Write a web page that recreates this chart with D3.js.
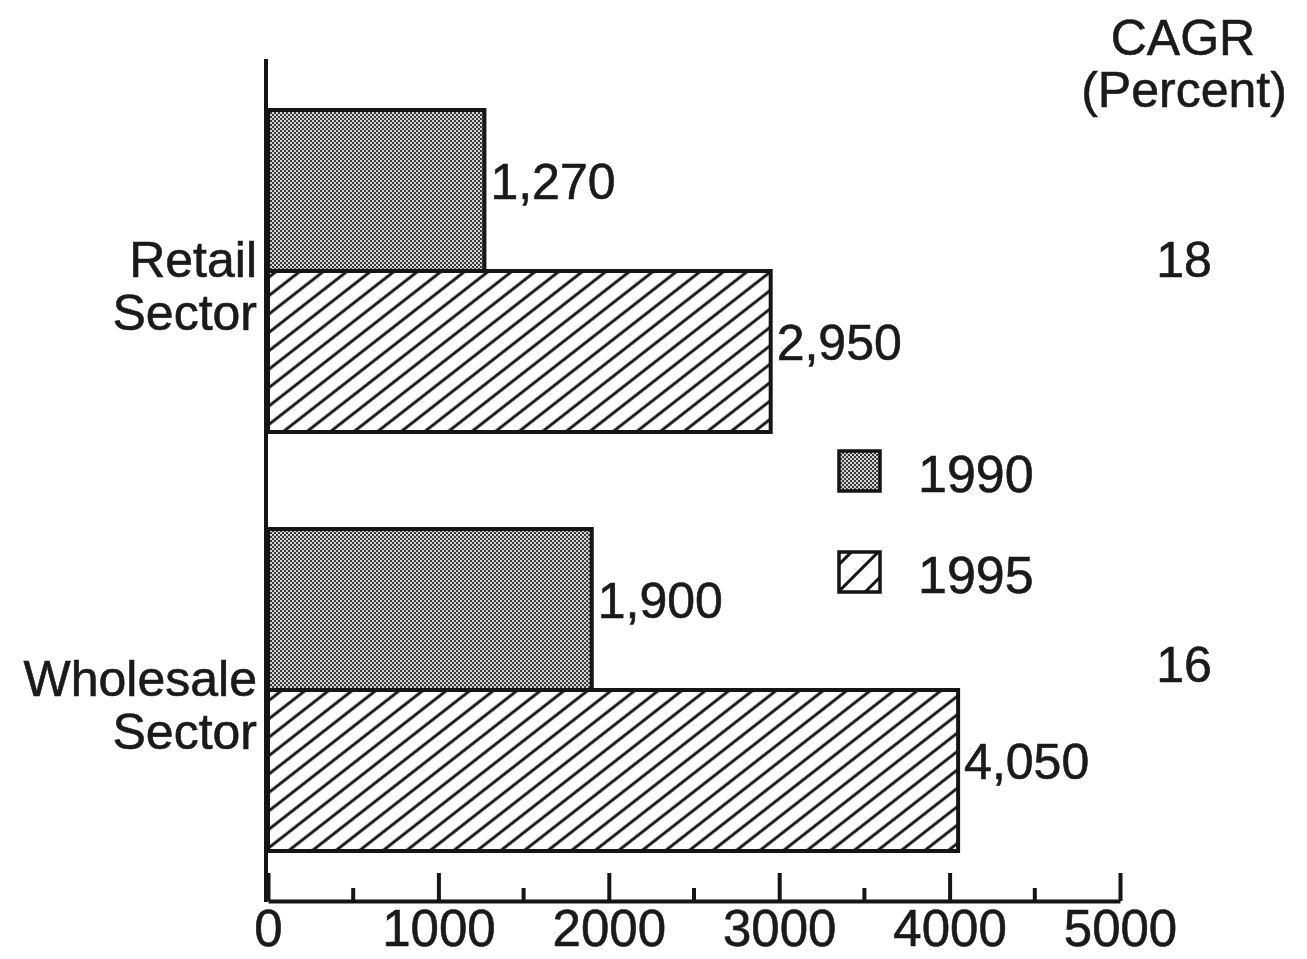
<!DOCTYPE html>
<html>
<head>
<meta charset="utf-8">
<script src="https://cdn.jsdelivr.net/npm/d3@7"></script>
<style>
  html, body { margin: 0; padding: 0; background: #fff; }
  svg { display: block; }
  text { font-family: "Liberation Sans", Arial, Helvetica, sans-serif; fill: #1a1a1a; stroke: #1a1a1a; stroke-width: 0.6px; }
</style>
</head>
<body>
<svg id="chart" width="1307" height="959"></svg>
<script>
// Sectors, years and values (sales, 1990 vs 1995) with growth rates
const sectors = ["Retail Sector", "Wholesale Sector"];
const sectorLines = [["Retail", "Sector"], ["Wholesale", "Sector"]];
const years = ["1990", "1995"];
const values1990 = [1270, 1900];
const values1995 = [2950, 4050];
const cagr = [18, 16];
const xTicks = [0, 1000, 2000, 3000, 4000, 5000];
const xMinorTicks = [500, 1500, 2500, 3500, 4500];

const svg = d3.select("#chart");
const defs = svg.append("defs");
const ink = "#151515";

// Dense dotted gray fill for 1990
const dots = defs.append("pattern")
  .attr("id", "dots").attr("patternUnits", "userSpaceOnUse")
  .attr("width", 4).attr("height", 4);
dots.append("rect").attr("width", 4).attr("height", 4).attr("fill", "#3a3a3a");
dots.append("rect").attr("x", 0).attr("y", 0).attr("width", 2).attr("height", 2).attr("fill", "#d4d4d4");
dots.append("rect").attr("x", 2).attr("y", 2).attr("width", 2).attr("height", 2).attr("fill", "#d4d4d4");

// Diagonal hatch for 1995
const hatch = defs.append("pattern")
  .attr("id", "hatch").attr("patternUnits", "userSpaceOnUse")
  .attr("width", 40).attr("height", 14.5)
  .attr("patternTransform", "rotate(-38)");
hatch.append("rect").attr("width", 40).attr("height", 14.5).attr("fill", "#fff");
hatch.append("line").attr("x1", 0).attr("x2", 40).attr("y1", 7).attr("y2", 7)
  .attr("stroke", ink).attr("stroke-width", 2.8);

// Wider hatch for the legend swatch
const hatchLeg = defs.append("pattern")
  .attr("id", "hatchLeg").attr("patternUnits", "userSpaceOnUse")
  .attr("width", 40).attr("height", 19)
  .attr("patternTransform", "translate(838,552) rotate(-45)");
hatchLeg.append("rect").attr("width", 40).attr("height", 19).attr("fill", "#fff");
hatchLeg.append("line").attr("x1", 0).attr("x2", 40).attr("y1", 9.5).attr("y2", 9.5)
  .attr("stroke", ink).attr("stroke-width", 2.8);

const x = d3.scaleLinear().domain([0, 5000]).range([268, 1120]);
const yCat = d3.scalePoint().domain(sectors).range([271, 690]);
const ySub = d3.scaleBand().domain(years).range([-161, 161]).padding(0);
const fills = { "1990": "url(#dots)", "1995": "url(#hatch)" };

const rows = [];
sectors.forEach((s, i) => {
  rows.push({ sector: s, year: "1990", value: values1990[i] });
  rows.push({ sector: s, year: "1995", value: values1995[i] });
});

// Bars
svg.append("g").selectAll("rect").data(rows).join("rect")
  .attr("x", x(0))
  .attr("y", d => yCat(d.sector) + ySub(d.year))
  .attr("width", d => x(d.value) - x(0))
  .attr("height", ySub.bandwidth())
  .attr("fill", d => fills[d.year])
  .attr("stroke", ink).attr("stroke-width", 4);

// Value labels
const fmt = d3.format(",");
svg.append("g").selectAll("text").data(rows).join("text")
  .attr("x", d => x(d.value) + 6)
  .attr("y", d => yCat(d.sector) + ySub(d.year) + ySub.bandwidth() / 2 + 8)
  .attr("font-size", 50)
  .text(d => fmt(d.value));

// Left axis line
svg.append("line")
  .attr("x1", 266).attr("x2", 266).attr("y1", 59).attr("y2", 902)
  .attr("stroke", ink).attr("stroke-width", 4);

// Bottom axis with major and minor ticks
const axisG = svg.append("g").attr("transform", "translate(0,901)");
axisG.call(d3.axisBottom(x).tickValues(xTicks).tickSize(-28).tickSizeOuter(0).tickFormat(d3.format("d")));
axisG.select(".domain").attr("stroke", ink).attr("stroke-width", 4);
axisG.selectAll(".tick line").attr("stroke", ink).attr("stroke-width", 4);
axisG.selectAll(".tick text")
  .attr("y", 45).attr("dy", 0)
  .attr("font-size", 51)
  .attr("font-family", "'Liberation Sans', Arial, Helvetica, sans-serif")
  .attr("fill", "#1a1a1a");
axisG.append("g").selectAll("line").data(xMinorTicks).join("line")
  .attr("x1", d => x(d)).attr("x2", d => x(d))
  .attr("y1", 0).attr("y2", -13)
  .attr("stroke", ink).attr("stroke-width", 4);

// Category labels
const catG = svg.append("g");
sectors.forEach((s, i) => {
  const t = catG.append("text")
    .attr("text-anchor", "end")
    .attr("font-size", 50);
  sectorLines[i].forEach((ln, j) => {
    t.append("tspan").attr("x", 257).attr("y", yCat(s) + 6 + j * 53).text(ln);
  });
});

// CAGR column
svg.append("text").attr("x", 1183).attr("y", 55).attr("text-anchor", "middle")
  .attr("font-size", 50).text("CAGR");
svg.append("text").attr("x", 1184).attr("y", 107).attr("text-anchor", "middle")
  .attr("font-size", 50).text("(Percent)");
const cagrY = [277, 682];
svg.append("g").selectAll("text").data(cagr).join("text")
  .attr("x", 1184).attr("y", (d, i) => cagrY[i])
  .attr("text-anchor", "middle").attr("font-size", 50)
  .text(d => d);

// Legend
const legY = [451, 552];
const legFill = ["url(#dots)", "url(#hatchLeg)"];
const leg = svg.append("g");
years.forEach((yr, i) => {
  leg.append("rect").attr("x", 839).attr("y", legY[i]).attr("width", 41).attr("height", 40)
    .attr("fill", legFill[i]).attr("stroke", ink).attr("stroke-width", 3.5);
  leg.append("text").attr("x", 918).attr("y", legY[i] + 41)
    .attr("font-size", 52).text(yr);
});
</script>
</body>
</html>
